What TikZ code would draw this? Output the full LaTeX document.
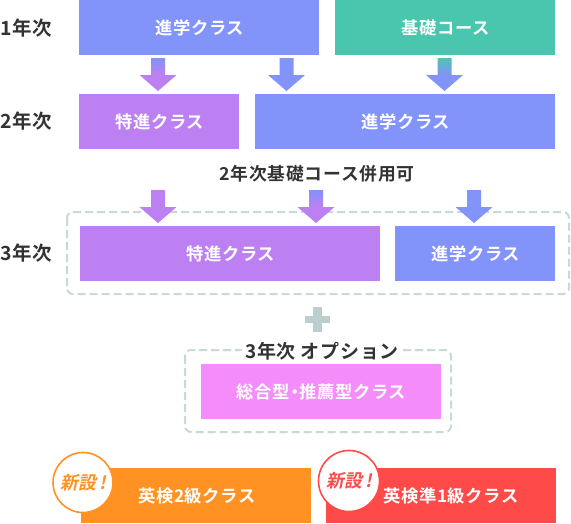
\documentclass[tikz,border=0pt]{standalone}
\usepackage{fontspec}
\newfontfamily\jp[LetterSpace=4,BoldFont={Noto Sans CJK JP Bold}]{Noto Sans CJK JP}
\newfontfamily\jpslant[FakeSlant=0.2]{Noto Sans CJK JP Bold}
\definecolor{cblue}{HTML}{8293FA}
\definecolor{cpurple}{HTML}{BD80F2}
\definecolor{cteal}{HTML}{4BC6AE}
\definecolor{cpink}{HTML}{F48CF9}
\definecolor{corange}{HTML}{FF9222}
\definecolor{cred}{HTML}{FF4A4A}
\definecolor{cdash}{HTML}{C8DAD7}
\definecolor{cplus}{HTML}{BBD0CE}
\definecolor{cink}{HTML}{333333}
\tikzset{
  x=1pt,y=-1pt,
  classbox/.style={minimum height=55pt,inner sep=0pt,outer sep=0pt,text=white,
    font=\jp\bfseries\fontsize{17.3}{17}\selectfont},
  yearlabel/.style={inner sep=0pt,text=cink,font=\jp\bfseries\fontsize{19.5}{19}\selectfont},
  dashbox/.style={draw=cdash,line width=2pt,dash pattern=on 8pt off 4pt,rounded corners=6pt},
  newbadge/.style={circle,fill=white,line width=1.6pt,minimum size=60pt,inner sep=0pt,
    font=\jpslant\fontsize{18}{18}\selectfont}
}
\newcommand{\blockarrow}[3]{%
  \path[top color=#2,bottom color=#3,middle color=#3,shading angle=0]
    ($(#1)+(-7,-33)$) -- ($(#1)+(7,-33)$) -- ($(#1)+(7,-16)$) -- ($(#1)+(18.5,-16)$)
    -- (#1) -- ($(#1)+(-18.5,-16)$) -- ($(#1)+(-7,-16)$) -- cycle;}
\usetikzlibrary{calc}
\begin{document}
\begin{tikzpicture}
\useasboundingbox (0,0) rectangle (571,523);
% dashed frames
\draw[dashbox] (67,212) rectangle (569,294) coordinate (frameA);
\draw[dashbox] (185,350) rectangle (451,432) coordinate (frameB);
% year labels
\node[yearlabel,anchor=west] (y1) at (0,28) {1年次};
\node[yearlabel,anchor=west] (y2) at (0,121) {2年次};
\node[yearlabel,anchor=west] (y3) at (0,253) {3年次};
% first year
\node[classbox,fill=cblue,minimum width=240pt] (a1) at (199,27.5) {\hspace*{1pt}進学クラス};
\node[classbox,fill=cteal,minimum width=220pt] (a2) at (445,27.5) {\hspace*{1pt}基礎コース};
% second year
\node[classbox,fill=cpurple,minimum width=160pt] (b1) at (159,121.5) {\hspace*{1pt}特進クラス};
\node[classbox,fill=cblue,minimum width=300pt] (b2) at (405,121.5) {\hspace*{1pt}進学クラス};
\node[inner sep=0pt,text=cink,font=\jp\bfseries\fontsize{17.8}{17}\selectfont] (note) at (317,174) {2年次基礎コース併用可};
% third year
\node[classbox,fill=cpurple,minimum width=300pt] (c1) at (230,253.5) {\hspace*{1pt}特進クラス};
\node[classbox,fill=cblue,minimum width=160pt] (c2) at (475,253.5) {\hspace*{1pt}進学クラス};
% arrows
\coordinate (t1) at (158,91);
\coordinate (t2) at (286.5,91);
\coordinate (t3) at (444.5,91);
\coordinate (t4) at (158,223);
\coordinate (t5) at (316,223);
\coordinate (t6) at (474,223);
\blockarrow{t1}{cblue}{cpurple}
\blockarrow{t2}{cblue}{cblue}
\blockarrow{t3}{cteal}{cblue}
\blockarrow{t4}{cpurple}{cpurple}
\blockarrow{t5}{cblue}{cpurple}
\blockarrow{t6}{cblue}{cblue}
% plus
\fill[cplus] (312.8,307) rectangle (322.2,332);
\fill[cplus] (305,316) rectangle (330,323);
% option
\node[inner sep=0pt,fill=white,inner xsep=3pt,text=cink,font=\jp\bfseries\fontsize{19}{18}\selectfont] (opt) at (322,351) {3年次 オプション};
\node[classbox,fill=cpink,minimum width=240pt] (d1) at (321,391.5) {\hspace*{1pt}総合型\kern-4pt・\kern-4pt推薦型クラス};
% eiken
\node[classbox,fill=corange,minimum width=230pt] (e1) at (196,495.5) {\hspace*{2pt}英検2級クラス};
\node[classbox,fill=cred,minimum width=230pt] (e2) at (441,495.5) {\hspace*{20pt}英検準1級クラス};
\node[newbadge,draw=corange,text=corange] (n1) at (83,482.5) {新設\,!};
\node[newbadge,draw=cred,text=cred,minimum size=61pt] (n2) at (349,481) {新設\,!};
\end{tikzpicture}
\end{document}
